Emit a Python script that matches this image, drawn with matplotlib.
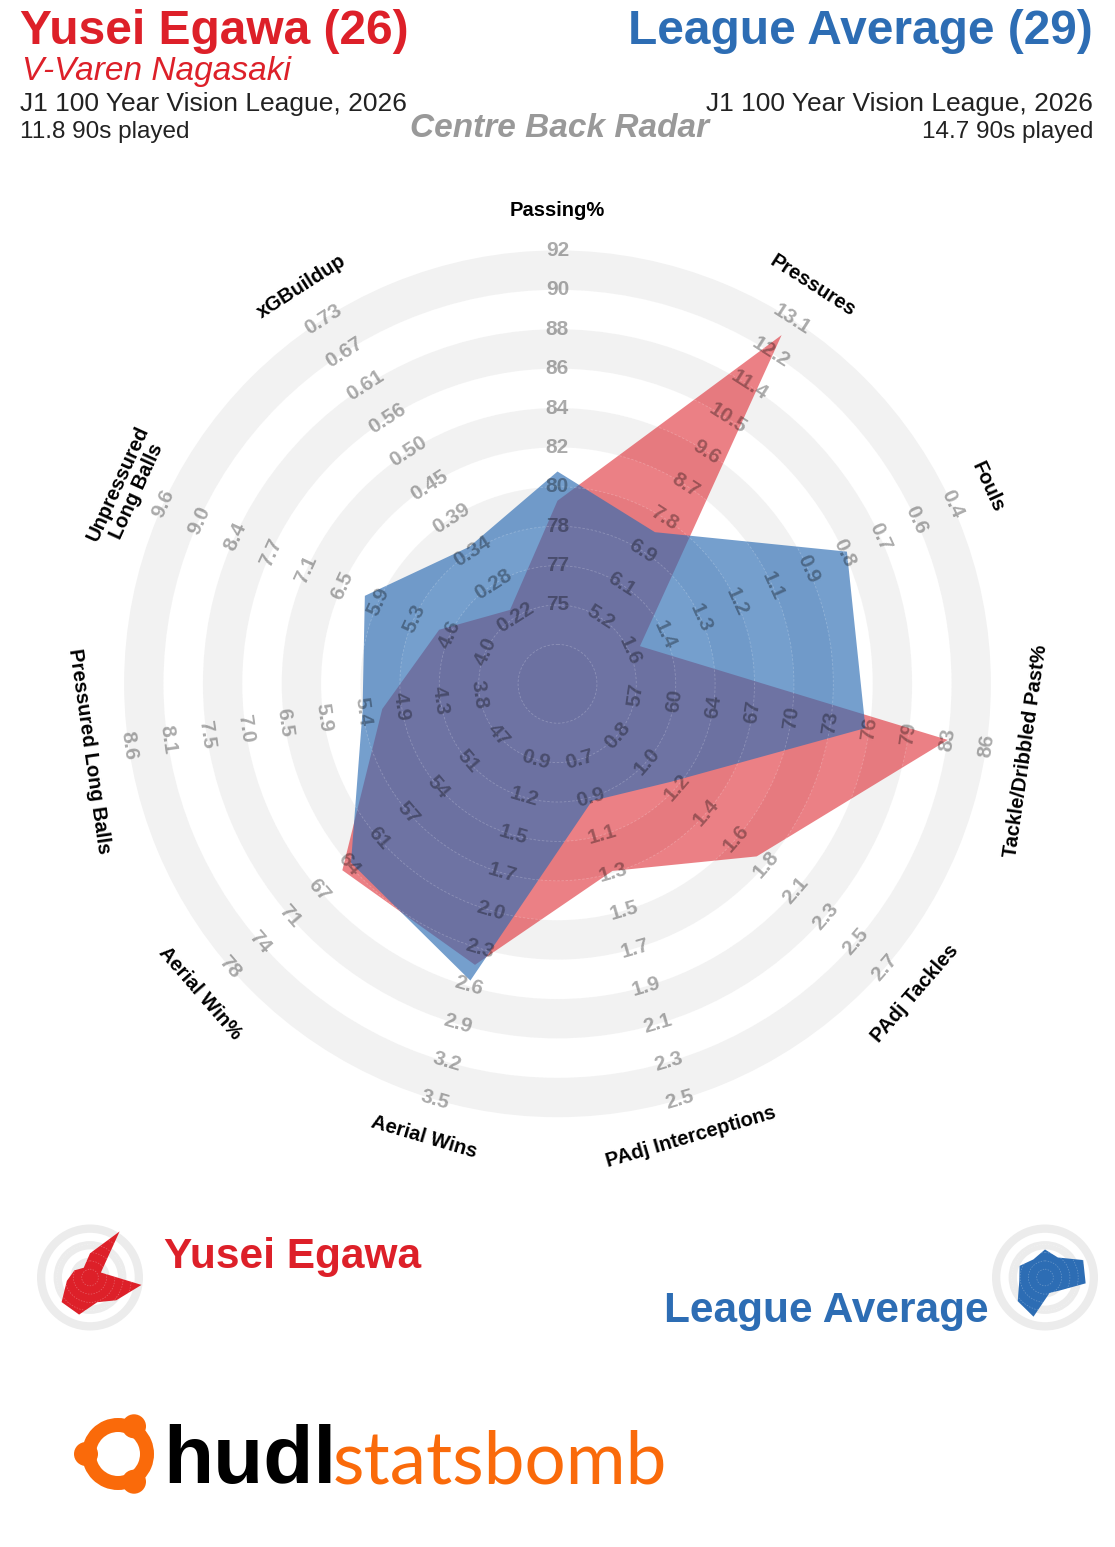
import numpy as np
import matplotlib
matplotlib.use("Agg")
from matplotlib import pyplot as plt
from matplotlib.patches import Polygon, Wedge, Circle

plt.rcParams['font.family'] = ['Liberation Sans', 'DejaVu Sans']

## Data

params = ['Passing%', 'Pressures', 'Fouls', 'Tackle/Dribbled Past%', 'PAdj Tackles',
          'PAdj Interceptions', 'Aerial Wins', 'Aerial Win%', 'Pressured Long Balls',
          'Unpressured\nLong Balls', 'xGBuildup']

ring_labels = [
    ['75', '77', '78', '80', '82', '84', '86', '88', '90', '92'],
    ['5.2', '6.1', '6.9', '7.8', '8.7', '9.6', '10.5', '11.4', '12.2', '13.1'],
    ['1.6', '1.4', '1.3', '1.2', '1.1', '0.9', '0.8', '0.7', '0.6', '0.4'],
    ['57', '60', '64', '67', '70', '73', '76', '79', '83', '86'],
    ['0.8', '1.0', '1.2', '1.4', '1.6', '1.8', '2.1', '2.3', '2.5', '2.7'],
    ['0.7', '0.9', '1.1', '1.3', '1.5', '1.7', '1.9', '2.1', '2.3', '2.5'],
    ['0.9', '1.2', '1.5', '1.7', '2.0', '2.3', '2.6', '2.9', '3.2', '3.5'],
    ['47', '51', '54', '57', '61', '64', '67', '71', '74', '78'],
    ['3.8', '4.3', '4.9', '5.4', '5.9', '6.5', '7.0', '7.5', '8.1', '8.6'],
    ['4.0', '4.6', '5.3', '5.9', '6.5', '7.1', '7.7', '8.4', '9.0', '9.6'],
    ['0.22', '0.28', '0.34', '0.39', '0.45', '0.50', '0.56', '0.61', '0.67', '0.73'],
]

player_values = [80.0, 12.68, 1.56, 82.8, 1.79, 1.29, 2.47, 65.0, 5.13, 4.81, 0.233]
average_values = [81.4, 7.46, 0.79, 76.0, 1.18, 0.92, 2.59, 64.0, 5.40, 6.10, 0.341]

player_name = 'Yusei Egawa'
player_age = 26
player_team = 'V-Varen Nagasaki'
avg_name = 'League Average'
avg_age = 29
competition = 'J1 100 Year Vision League, 2026'
player_90s = 11.8
avg_90s = 14.7

## Styles

RED = '#DD2029'
BLUE = '#2D6DB4'
RING = '#f2f2f2'
W, H = 1115, 1547
cx, cy = 557.5, 683.8      # radar centre (px)
unit = 39.4                # px per ring

n = len(params)
ang = np.arange(n) * 2 * np.pi / n   # clockwise from top


def to_radius(vals):
    rr = []
    for v, lab in zip(vals, ring_labels):
        lo, hi = float(lab[0]), float(lab[-1])
        rr.append(2 + 9 * (v - lo) / (hi - lo))
    return np.array(rr)


def poly_xy(rr, x0, y0, u):
    return np.column_stack([x0 + rr * u * np.sin(ang), y0 - rr * u * np.cos(ang)])


def tang_rot(a):
    d = np.degrees(a) % 360
    if 90 < d < 270:
        return 180 - d
    return -d


fig = plt.figure(figsize=(W / 100, H / 100), dpi=100)
ax = fig.add_axes([0, 0, 1, 1])
ax.set_xlim(0, W)
ax.set_ylim(H, 0)
ax.axis('off')

## Rings
for k in range(0, 11, 2):
    ax.add_patch(Wedge((cx, cy), (k + 1) * unit, 0, 360, width=unit, facecolor=RING,
                       edgecolor='none', zorder=1))

r_pl = to_radius(player_values)
r_av = to_radius(average_values)
ax.add_patch(Polygon(poly_xy(r_pl, cx, cy, unit), closed=True, facecolor=RED, alpha=0.57,
                     edgecolor='none', zorder=2))
ax.add_patch(Polygon(poly_xy(r_av, cx, cy, unit), closed=True, facecolor=BLUE, alpha=0.66,
                     edgecolor='none', zorder=3))

for k in range(1, 11):
    ax.add_patch(Circle((cx, cy), k * unit, fill=False, edgecolor='white', lw=0.6,
                        alpha=0.22, ls=(0, (3, 2)), zorder=4))

## Ring labels + parameter names
for i in range(n):
    rot = tang_rot(ang[i])
    for k, lab in enumerate(ring_labels[i]):
        r = (k + 2) * unit
        ax.text(cx + r * np.sin(ang[i]), cy - r * np.cos(ang[i]), lab, fontsize=15,
                fontweight='bold', color='black', alpha=0.33, ha='center', va='center',
                rotation=rot, rotation_mode='anchor', zorder=5)
    r = 12.0 * unit
    ax.text(cx + r * np.sin(ang[i]), cy - r * np.cos(ang[i]), params[i], fontsize=14.5,
            fontweight='bold', color='black', ha='center', va='center', rotation=rot,
            rotation_mode='anchor', linespacing=1.05, zorder=5)

## Header
ax.text(20, 44, f'{player_name} ({player_age})', fontsize=34.5, fontweight='bold', color=RED,
        ha='left', va='baseline')
ax.text(22, 80, player_team, fontsize=24, style='italic', color=RED, ha='left', va='baseline')
ax.text(20, 111, competition, fontsize=19, color='#222222', ha='left', va='baseline')
ax.text(20, 138, f'{player_90s} 90s played', fontsize=17.5, color='#222222', ha='left',
        va='baseline')
ax.text(1093, 44, f'{avg_name} ({avg_age})', fontsize=34.5, fontweight='bold', color=BLUE,
        ha='right', va='baseline')
ax.text(1093, 111, competition, fontsize=19, color='#222222', ha='right', va='baseline')
ax.text(1093, 138, f'{avg_90s} 90s played', fontsize=17.5, color='#222222', ha='right',
        va='baseline')
ax.text(560, 137, 'Centre Back Radar', fontsize=24, fontweight='bold', style='italic',
        color='#999999', ha='center', va='baseline')

## Legend mini radars
mini_u = 5.2
band = 8.3
for (mx, my), rr, col in [((90, 1277.5), r_pl, RED), ((1045, 1277.5), r_av, BLUE)]:
    for b in [53, 36.4, 19.8]:
        ax.add_patch(Wedge((mx, my), b, 0, 360, width=band, facecolor='#ececec',
                           edgecolor='none', zorder=1))
    ax.add_patch(Polygon(poly_xy(rr, mx, my, mini_u), closed=True, facecolor=col,
                         edgecolor='none', zorder=2))
    for k in range(1, 6):
        ax.add_patch(Circle((mx, my), k * band, fill=False, edgecolor='white', lw=0.5,
                            alpha=0.3, ls=(0, (2, 2)), zorder=3))

ax.text(164, 1268, player_name, fontsize=30.5, fontweight='bold', color=RED, ha='left',
        va='baseline')
ax.text(989, 1322, avg_name, fontsize=30.5, fontweight='bold', color=BLUE, ha='right',
        va='baseline')

## Logo
ORANGE = '#FA6A0A'
ax.add_patch(Wedge((118, 1454), 36, 0, 360, width=14, facecolor=ORANGE, edgecolor='none'))
for a in [60, 180, 300]:
    ax.add_patch(Circle((118 + 32 * np.cos(np.radians(a)), 1454 - 32 * np.sin(np.radians(a))),
                        12, facecolor=ORANGE, edgecolor='none'))
ax.text(163, 1483, 'hudl', fontsize=59, fontweight='bold', color='black', ha='left',
        va='baseline')
ax.text(333, 1483, 'statsbomb', fontsize=52.5, family=['Lato', 'DejaVu Sans'],
        fontweight='normal', color=ORANGE, ha='left', va='baseline')

fig.savefig('out.png', dpi=100)
